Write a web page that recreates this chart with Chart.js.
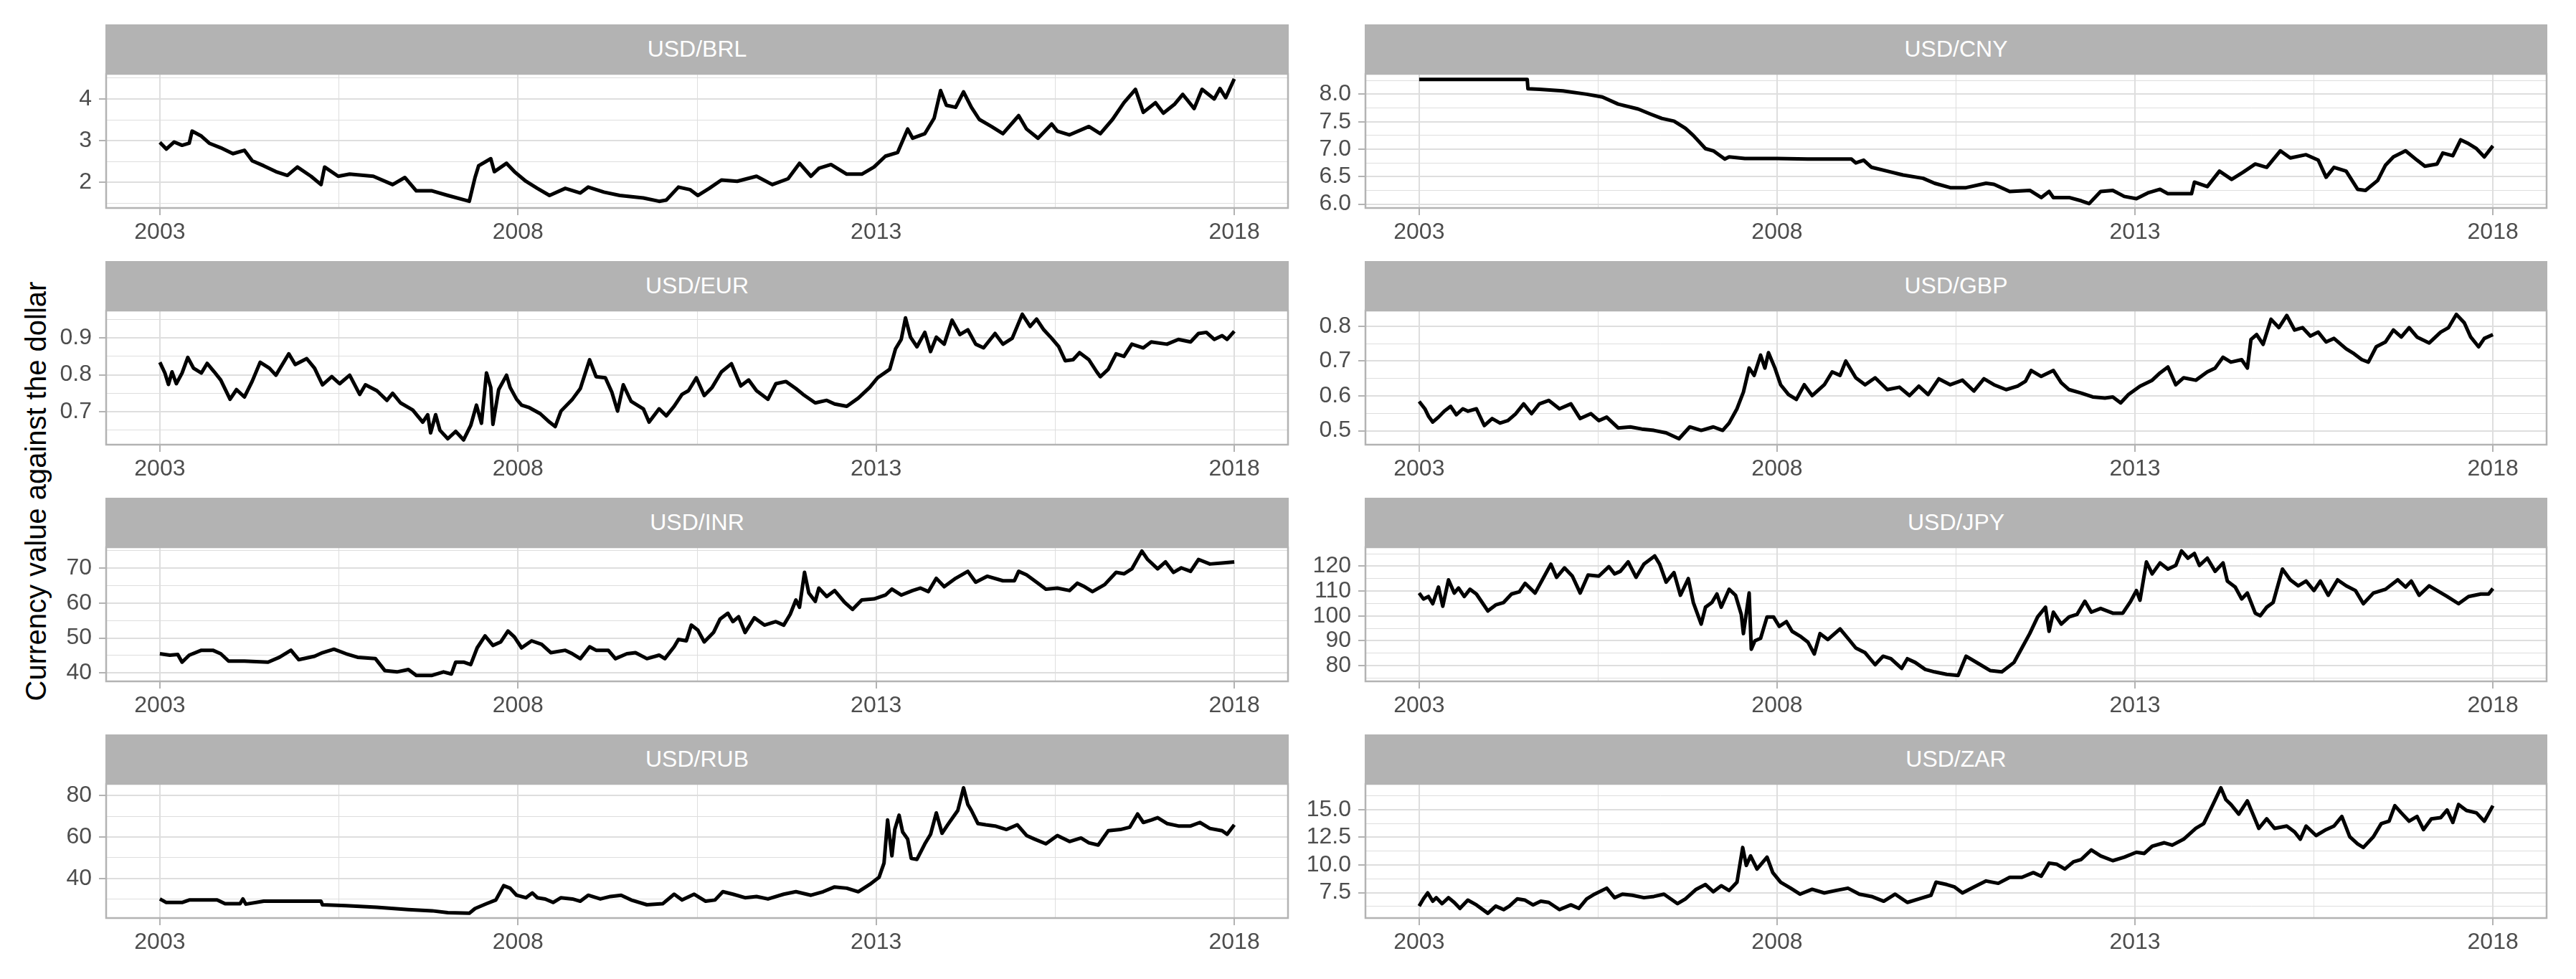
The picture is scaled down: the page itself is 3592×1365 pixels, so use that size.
<!DOCTYPE html>
<html>
<head>
<meta charset="utf-8">
<script src="https://cdn.jsdelivr.net/npm/chart.js@4.4.0/dist/chart.umd.min.js"></script>
<style>
  body { margin: 0; background: #fff; width: 3592px; height: 1365px; position: relative; overflow: hidden;
         font-family: "Liberation Sans", Arial, sans-serif; }
  .strip { position: absolute; background: #b3b3b3; color: #fff; font-size: 32px;
           display: flex; align-items: center; justify-content: center; }
  .panel { position: absolute; }
  #ytitle { position: absolute; left: 50px; top: 685px; transform: translate(-50%, -50%) rotate(-90deg);
            font-size: 40px; white-space: nowrap; color: #000; }
</style>
</head>
<body>
<div id="ytitle">Currency value against the dollar</div>
<script>
// ---- data ----
const yearTicks = [2003, 2008, 2013, 2018];
const yearLabels = ['2003', '2008', '2013', '2018'];

const brlDates = [
  2003.00, 2003.09, 2003.20, 2003.31, 2003.41, 2003.45, 2003.58, 2003.69, 2003.85, 2004.02,
  2004.18, 2004.29, 2004.45, 2004.62, 2004.78, 2004.92, 2005.11, 2005.25, 2005.30, 2005.49,
  2005.65, 2005.98, 2006.25, 2006.42, 2006.58, 2006.80, 2007.02, 2007.32, 2007.40, 2007.45,
  2007.62, 2007.67, 2007.84, 2007.95, 2008.11, 2008.27, 2008.44, 2008.66, 2008.87, 2008.98,
  2009.20, 2009.42, 2009.75, 2009.97, 2010.07, 2010.24, 2010.40, 2010.51, 2010.67, 2010.84,
  2011.06, 2011.33, 2011.55, 2011.77, 2011.93, 2012.09, 2012.20, 2012.37, 2012.59, 2012.80,
  2012.97, 2013.13, 2013.30, 2013.44, 2013.51, 2013.68, 2013.81, 2013.90, 2013.98, 2014.11,
  2014.22, 2014.33, 2014.44, 2014.61, 2014.77, 2014.99, 2015.10, 2015.26, 2015.45, 2015.53,
  2015.70, 2015.97, 2016.13, 2016.30, 2016.46, 2016.62, 2016.73, 2016.90, 2017.01, 2017.17,
  2017.28, 2017.44, 2017.55, 2017.72, 2017.80, 2017.88, 2018.00
];
const brlValues = [
  2.96, 2.80, 2.97, 2.89, 2.94, 3.23, 3.11, 2.94, 2.83, 2.69,
  2.77, 2.52, 2.40, 2.26, 2.17, 2.37, 2.15, 1.95, 2.37, 2.15,
  2.20, 2.15, 1.95, 2.12, 1.80, 1.80, 1.69, 1.55, 2.12, 2.40,
  2.57, 2.26, 2.46, 2.26, 2.03, 1.86, 1.69, 1.86, 1.75, 1.89,
  1.77, 1.69, 1.63, 1.55, 1.58, 1.89, 1.83, 1.69, 1.86, 2.06,
  2.03, 2.15, 1.95, 2.09, 2.46, 2.15, 2.34, 2.43, 2.20, 2.20,
  2.37, 2.63, 2.72, 3.28, 3.06, 3.17, 3.54, 4.20, 3.85, 3.80,
  4.17, 3.80, 3.51, 3.34, 3.17, 3.60, 3.28, 3.06, 3.40, 3.23,
  3.14, 3.34, 3.17, 3.51, 3.91, 4.23, 3.68, 3.91, 3.66, 3.88,
  4.11, 3.77, 4.23, 4.00, 4.25, 4.03, 4.48
];

const cnyDates = [
  2003.00, 2004.51, 2004.52, 2004.68, 2005.01, 2005.34, 2005.56, 2005.78, 2006.06, 2006.23,
  2006.39, 2006.56, 2006.72, 2006.83, 2007.00, 2007.11, 2007.27, 2007.33, 2007.55, 2008.00,
  2008.43, 2009.04, 2009.10, 2009.21, 2009.32, 2009.54, 2009.76, 2010.04, 2010.20, 2010.42,
  2010.64, 2010.92, 2011.03, 2011.25, 2011.53, 2011.69, 2011.80, 2011.86, 2012.08, 2012.25,
  2012.36, 2012.52, 2012.69, 2012.85, 2013.02, 2013.19, 2013.35, 2013.46, 2013.79, 2013.83,
  2014.01, 2014.18, 2014.35, 2014.51, 2014.68, 2014.84, 2015.03, 2015.17, 2015.39, 2015.56,
  2015.67, 2015.78, 2015.95, 2016.11, 2016.22, 2016.39, 2016.50, 2016.61, 2016.78, 2016.94,
  2017.05, 2017.22, 2017.30, 2017.44, 2017.55, 2017.66, 2017.77, 2017.88, 2018.00
];
const cnyValues = [
  8.27, 8.27, 8.10, 8.09, 8.06, 8.00, 7.95, 7.82, 7.73, 7.64,
  7.56, 7.51, 7.38, 7.25, 7.01, 6.97, 6.82, 6.86, 6.83, 6.83,
  6.82, 6.82, 6.75, 6.80, 6.67, 6.60, 6.53, 6.47, 6.38, 6.30,
  6.30, 6.38, 6.36, 6.23, 6.25, 6.12, 6.23, 6.12, 6.12, 6.06,
  6.01, 6.23, 6.25, 6.14, 6.10, 6.21, 6.27, 6.19, 6.19, 6.40,
  6.32, 6.60, 6.45, 6.58, 6.73, 6.67, 6.97, 6.84, 6.90, 6.80,
  6.49, 6.67, 6.60, 6.27, 6.25, 6.43, 6.71, 6.86, 6.97, 6.80,
  6.69, 6.73, 6.93, 6.88, 7.17, 7.10, 7.01, 6.86, 7.06
];

const eurDates = [
  2003.00, 2003.07, 2003.12, 2003.17, 2003.23, 2003.31, 2003.39, 2003.47, 2003.58, 2003.66,
  2003.76, 2003.85, 2003.98, 2004.07, 2004.18, 2004.29, 2004.40, 2004.53, 2004.62, 2004.80,
  2004.89, 2005.05, 2005.16, 2005.27, 2005.40, 2005.51, 2005.65, 2005.79, 2005.87, 2006.03,
  2006.17, 2006.25, 2006.36, 2006.53, 2006.67, 2006.74, 2006.78, 2006.85, 2006.91, 2007.02,
  2007.13, 2007.24, 2007.34, 2007.42, 2007.49, 2007.56, 2007.62, 2007.65, 2007.73, 2007.84,
  2007.89, 2007.98, 2008.05, 2008.16, 2008.31, 2008.44, 2008.52, 2008.60, 2008.76, 2008.87,
  2009.00, 2009.09, 2009.22, 2009.31, 2009.39, 2009.47, 2009.58, 2009.75, 2009.83, 2009.97,
  2010.07, 2010.18, 2010.29, 2010.38, 2010.49, 2010.60, 2010.71, 2010.84, 2010.98, 2011.11,
  2011.22, 2011.33, 2011.49, 2011.60, 2011.74, 2011.88, 2011.98, 2012.15, 2012.31, 2012.42,
  2012.59, 2012.75, 2012.91, 2013.02, 2013.19, 2013.27, 2013.35, 2013.41, 2013.48, 2013.57,
  2013.68, 2013.76, 2013.84, 2013.95, 2014.06, 2014.17, 2014.28, 2014.39, 2014.50, 2014.66,
  2014.77, 2014.90, 2015.04, 2015.15, 2015.24, 2015.34, 2015.45, 2015.55, 2015.64, 2015.75,
  2015.84, 2015.97, 2016.08, 2016.13, 2016.24, 2016.35, 2016.46, 2016.57, 2016.73, 2016.84,
  2017.06, 2017.22, 2017.39, 2017.50, 2017.61, 2017.72, 2017.83, 2017.90, 2018.00
];
const eurValues = [
  0.834, 0.805, 0.774, 0.808, 0.776, 0.805, 0.847, 0.818, 0.805, 0.831,
  0.808, 0.786, 0.734, 0.760, 0.740, 0.783, 0.834, 0.818, 0.799, 0.857,
  0.828, 0.844, 0.818, 0.773, 0.795, 0.776, 0.799, 0.747, 0.773, 0.757,
  0.731, 0.750, 0.724, 0.705, 0.672, 0.692, 0.643, 0.692, 0.650, 0.627,
  0.647, 0.624, 0.663, 0.718, 0.669, 0.805, 0.766, 0.666, 0.760, 0.799,
  0.766, 0.734, 0.718, 0.711, 0.695, 0.672, 0.660, 0.702, 0.734, 0.763,
  0.841, 0.795, 0.792, 0.753, 0.702, 0.773, 0.728, 0.708, 0.672, 0.708,
  0.689, 0.715, 0.747, 0.757, 0.792, 0.744, 0.766, 0.808, 0.830, 0.770,
  0.786, 0.757, 0.734, 0.776, 0.782, 0.763, 0.747, 0.724, 0.731, 0.721,
  0.715, 0.737, 0.766, 0.792, 0.815, 0.870, 0.896, 0.954, 0.902, 0.876,
  0.915, 0.863, 0.902, 0.883, 0.948, 0.909, 0.922, 0.883, 0.873, 0.912,
  0.883, 0.899, 0.964, 0.931, 0.951, 0.922, 0.899, 0.876, 0.838, 0.841,
  0.860, 0.841, 0.808, 0.795, 0.815, 0.857, 0.850, 0.883, 0.873, 0.889,
  0.883, 0.896, 0.889, 0.912, 0.915, 0.896, 0.906, 0.896, 0.918
];

const gbpDates = [
  2003.00, 2003.08, 2003.13, 2003.19, 2003.27, 2003.35, 2003.44, 2003.52, 2003.61, 2003.68,
  2003.80, 2003.91, 2004.02, 2004.13, 2004.24, 2004.35, 2004.46, 2004.57, 2004.68, 2004.81,
  2004.96, 2005.12, 2005.25, 2005.40, 2005.51, 2005.62, 2005.78, 2005.95, 2006.11, 2006.28,
  2006.45, 2006.63, 2006.78, 2006.94, 2007.11, 2007.24, 2007.33, 2007.44, 2007.53, 2007.61,
  2007.68, 2007.77, 2007.83, 2007.88, 2007.97, 2008.05, 2008.16, 2008.27, 2008.38, 2008.49,
  2008.66, 2008.77, 2008.88, 2008.96, 2009.10, 2009.23, 2009.37, 2009.54, 2009.71, 2009.85,
  2009.98, 2010.11, 2010.26, 2010.42, 2010.59, 2010.75, 2010.89, 2011.03, 2011.20, 2011.36,
  2011.47, 2011.55, 2011.69, 2011.86, 2011.97, 2012.08, 2012.25, 2012.41, 2012.58, 2012.69,
  2012.80, 2012.91, 2013.07, 2013.24, 2013.35, 2013.46, 2013.57, 2013.68, 2013.85, 2014.01,
  2014.12, 2014.23, 2014.34, 2014.49, 2014.57, 2014.62, 2014.70, 2014.79, 2014.90, 2015.01,
  2015.12, 2015.23, 2015.34, 2015.45, 2015.56, 2015.67, 2015.78, 2015.95, 2016.06, 2016.17,
  2016.26, 2016.37, 2016.50, 2016.61, 2016.72, 2016.83, 2016.94, 2017.11, 2017.27, 2017.38,
  2017.49, 2017.60, 2017.69, 2017.80, 2017.88, 2018.00
];
const gbpValues = [
  0.584, 0.563, 0.542, 0.525, 0.539, 0.556, 0.570, 0.546, 0.563, 0.556,
  0.563, 0.515, 0.535, 0.522, 0.529, 0.549, 0.577, 0.549, 0.577, 0.587,
  0.563, 0.577, 0.535, 0.549, 0.529, 0.539, 0.508, 0.511, 0.505, 0.501,
  0.494, 0.477, 0.511, 0.501, 0.511, 0.501, 0.522, 0.563, 0.611, 0.680,
  0.659, 0.717, 0.680, 0.724, 0.680, 0.632, 0.604, 0.590, 0.632, 0.601,
  0.632, 0.669, 0.659, 0.700, 0.652, 0.632, 0.652, 0.618, 0.625, 0.601,
  0.628, 0.604, 0.649, 0.632, 0.645, 0.614, 0.649, 0.632, 0.618, 0.628,
  0.642, 0.673, 0.656, 0.673, 0.638, 0.618, 0.608, 0.597, 0.594, 0.597,
  0.580, 0.604, 0.628, 0.645, 0.666, 0.683, 0.632, 0.652, 0.645, 0.669,
  0.680, 0.711, 0.697, 0.704, 0.680, 0.762, 0.776, 0.748, 0.820, 0.796,
  0.831, 0.789, 0.796, 0.772, 0.783, 0.755, 0.765, 0.735, 0.721, 0.704,
  0.697, 0.741, 0.755, 0.789, 0.769, 0.796, 0.769, 0.752, 0.783, 0.796,
  0.834, 0.810, 0.769, 0.741, 0.765, 0.776
];

const inrDates = [
  2003.00, 2003.14, 2003.25, 2003.31, 2003.41, 2003.58, 2003.74, 2003.85, 2003.96, 2004.18,
  2004.51, 2004.67, 2004.83, 2004.94, 2005.16, 2005.27, 2005.43, 2005.60, 2005.76, 2006.01,
  2006.14, 2006.31, 2006.47, 2006.58, 2006.80, 2006.96, 2007.07, 2007.13, 2007.24, 2007.34,
  2007.43, 2007.54, 2007.65, 2007.76, 2007.86, 2007.95, 2008.05, 2008.19, 2008.33, 2008.46,
  2008.66, 2008.76, 2008.87, 2009.00, 2009.09, 2009.26, 2009.36, 2009.52, 2009.64, 2009.80,
  2009.97, 2010.05, 2010.18, 2010.24, 2010.35, 2010.42, 2010.51, 2010.60, 2010.73, 2010.82,
  2010.93, 2011.00, 2011.08, 2011.17, 2011.30, 2011.44, 2011.60, 2011.71, 2011.80, 2011.88,
  2011.93, 2012.00, 2012.06, 2012.15, 2012.20, 2012.31, 2012.42, 2012.56, 2012.67, 2012.80,
  2012.97, 2013.13, 2013.22, 2013.35, 2013.51, 2013.62, 2013.73, 2013.84, 2013.95, 2014.11,
  2014.28, 2014.39, 2014.55, 2014.77, 2014.93, 2014.99, 2015.10, 2015.26, 2015.37, 2015.53,
  2015.70, 2015.81, 2015.91, 2016.02, 2016.19, 2016.35, 2016.46, 2016.57, 2016.71, 2016.79,
  2016.93, 2017.04, 2017.15, 2017.26, 2017.39, 2017.50, 2017.66, 2017.83, 2018.00
];
const inrValues = [
  45.5, 45.1, 45.3, 43.1, 45.1, 46.5, 46.5, 45.5, 43.4, 43.4,
  43.1, 44.5, 46.5, 43.8, 44.8, 45.8, 46.8, 45.5, 44.5, 44.1,
  40.7, 40.3, 41.0, 39.3, 39.3, 40.3, 39.7, 43.1, 43.1, 42.4,
  47.2, 50.6, 47.9, 48.9, 52.0, 50.3, 47.2, 49.2, 48.2, 45.8,
  46.5, 45.5, 44.1, 47.5, 46.5, 46.5, 44.1, 45.5, 45.8, 44.1,
  45.1, 44.1, 47.5, 49.6, 49.2, 53.7, 52.3, 48.9, 51.6, 55.4,
  57.1, 54.7, 56.1, 51.6, 55.8, 53.7, 54.7, 53.7, 56.8, 60.9,
  58.8, 68.8, 62.9, 60.5, 64.3, 61.9, 63.6, 60.2, 58.2, 60.9,
  61.2, 62.3, 64.0, 62.3, 63.6, 64.3, 63.3, 67.1, 64.7, 67.1,
  69.1, 66.0, 67.7, 66.4, 66.4, 69.1, 68.1, 65.7, 64.0, 64.3,
  63.6, 65.7, 64.7, 63.3, 65.3, 68.8, 68.4, 69.8, 74.9, 72.5,
  69.8, 71.8, 68.8, 70.1, 69.1, 72.5, 71.2, 71.5, 71.8
];

const jpyDates = [
  2003.00, 2003.06, 2003.13, 2003.19, 2003.27, 2003.33, 2003.41, 2003.49, 2003.55, 2003.63,
  2003.71, 2003.80, 2003.88, 2003.96, 2004.07, 2004.18, 2004.29, 2004.40, 2004.48, 2004.62,
  2004.73, 2004.84, 2004.92, 2005.03, 2005.14, 2005.25, 2005.36, 2005.51, 2005.65, 2005.73,
  2005.81, 2005.92, 2006.03, 2006.14, 2006.29, 2006.36, 2006.45, 2006.56, 2006.65, 2006.76,
  2006.83, 2006.94, 2007.00, 2007.09, 2007.16, 2007.22, 2007.33, 2007.42, 2007.50, 2007.53,
  2007.61, 2007.64, 2007.69, 2007.77, 2007.86, 2007.95, 2008.03, 2008.13, 2008.21, 2008.32,
  2008.43, 2008.52, 2008.60, 2008.71, 2008.88, 2008.99, 2009.10, 2009.23, 2009.37, 2009.48,
  2009.59, 2009.74, 2009.82, 2009.93, 2010.07, 2010.20, 2010.37, 2010.53, 2010.64, 2010.81,
  2010.98, 2011.14, 2011.31, 2011.42, 2011.53, 2011.64, 2011.75, 2011.80, 2011.86, 2011.97,
  2012.08, 2012.19, 2012.30, 2012.39, 2012.52, 2012.69, 2012.83, 2012.94, 2013.02, 2013.07,
  2013.16, 2013.24, 2013.35, 2013.46, 2013.57, 2013.65, 2013.74, 2013.83, 2013.90, 2014.01,
  2014.12, 2014.23, 2014.29, 2014.40, 2014.49, 2014.57, 2014.68, 2014.75, 2014.84, 2014.93,
  2015.06, 2015.17, 2015.28, 2015.39, 2015.50, 2015.59, 2015.70, 2015.83, 2015.95, 2016.08,
  2016.19, 2016.33, 2016.50, 2016.67, 2016.78, 2016.86, 2016.97, 2017.11, 2017.22, 2017.36,
  2017.52, 2017.66, 2017.83, 2017.94, 2018.00
];
const jpyValues = [
  109.2, 106.8, 107.8, 104.9, 111.6, 103.9, 114.5, 109.2, 111.2, 107.8,
  110.7, 108.8, 105.4, 102.0, 104.4, 105.4, 108.8, 109.7, 113.1, 109.2,
  115.0, 120.8, 115.5, 119.3, 116.0, 109.2, 116.4, 116.0, 119.8, 116.9,
  117.9, 121.7, 115.5, 120.8, 124.1, 120.8, 113.6, 117.4, 108.3, 115.0,
  105.4, 96.7, 103.5, 105.4, 108.8, 103.5, 110.7, 108.3, 100.6, 92.9,
  109.2, 86.6, 90.0, 91.0, 99.6, 99.6, 95.8, 97.7, 93.8, 91.9,
  89.5, 84.7, 92.9, 90.5, 94.8, 91.0, 87.1, 85.2, 80.4, 83.8,
  82.8, 78.9, 82.8, 81.3, 78.5, 77.5, 76.5, 76.1, 83.8, 80.9,
  78.0, 77.5, 81.3, 87.1, 92.9, 99.6, 103.5, 93.8, 101.5, 96.7,
  99.6, 100.6, 105.9, 101.5, 103.0, 101.1, 101.1, 105.9, 110.2, 106.3,
  121.7, 116.9, 121.3, 118.8, 120.3, 126.1, 123.2, 125.1, 120.3, 123.2,
  117.9, 121.3, 114.0, 111.6, 106.8, 109.2, 101.1, 100.1, 103.5, 105.4,
  118.8, 114.5, 112.1, 114.0, 110.2, 114.0, 108.3, 114.5, 112.1, 110.2,
  104.9, 109.2, 110.7, 114.5, 111.6, 114.0, 108.3, 112.1, 110.2, 107.8,
  104.9, 107.8, 108.8, 108.8, 111.0
];

const rubDates = [
  2003.00, 2003.09, 2003.31, 2003.41, 2003.80, 2003.91, 2004.12, 2004.16, 2004.20, 2004.45,
  2004.62, 2004.94, 2005.25, 2005.27, 2005.60, 2006.03, 2006.47, 2006.80, 2007.02, 2007.32,
  2007.40, 2007.56, 2007.69, 2007.80, 2007.89, 2007.98, 2008.11, 2008.20, 2008.27, 2008.38,
  2008.49, 2008.60, 2008.76, 2008.87, 2008.98, 2009.15, 2009.29, 2009.44, 2009.58, 2009.80,
  2010.02, 2010.18, 2010.29, 2010.46, 2010.62, 2010.75, 2010.86, 2011.00, 2011.17, 2011.33,
  2011.49, 2011.71, 2011.88, 2012.09, 2012.26, 2012.42, 2012.59, 2012.75, 2012.91, 2013.04,
  2013.11, 2013.16, 2013.22, 2013.26, 2013.32, 2013.37, 2013.44, 2013.49, 2013.57, 2013.68,
  2013.76, 2013.84, 2013.92, 2014.00, 2014.14, 2014.22, 2014.28, 2014.33, 2014.42, 2014.53,
  2014.66, 2014.82, 2014.97, 2015.10, 2015.21, 2015.37, 2015.53, 2015.70, 2015.86, 2015.97,
  2016.10, 2016.24, 2016.41, 2016.54, 2016.65, 2016.73, 2016.84, 2016.93, 2017.06, 2017.22,
  2017.39, 2017.52, 2017.66, 2017.83, 2017.90, 2018.00
];
const rubValues = [
  30.1, 28.4, 28.4, 29.6, 29.6, 27.8, 27.8, 30.1, 27.6, 29.0,
  29.0, 29.0, 29.0, 27.3, 26.9, 26.1, 25.0, 24.4, 23.5, 23.2,
  25.5, 27.8, 29.6, 36.5, 35.3, 31.9, 30.7, 33.0, 30.7, 30.1,
  28.4, 30.7, 30.1, 29.0, 31.9, 30.1, 31.3, 31.9, 29.6, 27.3,
  27.8, 32.4, 29.6, 32.4, 29.0, 29.6, 33.6, 32.4, 30.7, 31.3,
  30.1, 32.4, 33.6, 31.9, 33.6, 35.9, 35.3, 33.6, 37.1, 40.5,
  47.4, 68.2, 50.9, 63.6, 70.5, 62.4, 59.0, 49.7, 49.2, 56.7,
  61.3, 71.6, 61.8, 65.9, 72.8, 83.7, 75.7, 72.8, 66.5, 65.9,
  65.3, 63.6, 65.9, 60.7, 59.0, 56.7, 60.7, 57.8, 59.5, 57.2,
  56.1, 63.0, 63.6, 64.7, 71.1, 67.0, 68.2, 69.3, 66.5, 65.3,
  65.3, 67.0, 64.1, 63.0, 61.3, 65.9
];

const zarDates = [
  2003.00, 2003.06, 2003.12, 2003.19, 2003.24, 2003.32, 2003.41, 2003.49, 2003.57, 2003.68,
  2003.80, 2003.96, 2004.07, 2004.18, 2004.26, 2004.37, 2004.48, 2004.59, 2004.70, 2004.81,
  2004.96, 2005.12, 2005.23, 2005.34, 2005.45, 2005.62, 2005.73, 2005.84, 2005.98, 2006.14,
  2006.28, 2006.42, 2006.61, 2006.72, 2006.87, 2007.00, 2007.11, 2007.22, 2007.33, 2007.44,
  2007.52, 2007.57, 2007.63, 2007.72, 2007.79, 2007.86, 2007.94, 2008.05, 2008.19, 2008.32,
  2008.49, 2008.66, 2008.82, 2008.99, 2009.15, 2009.32, 2009.49, 2009.65, 2009.82, 2009.98,
  2010.15, 2010.22, 2010.37, 2010.48, 2010.59, 2010.75, 2010.92, 2011.09, 2011.25, 2011.42,
  2011.58, 2011.69, 2011.80, 2011.91, 2012.02, 2012.14, 2012.25, 2012.39, 2012.52, 2012.69,
  2012.85, 2013.02, 2013.13, 2013.24, 2013.41, 2013.52, 2013.68, 2013.85, 2013.96, 2014.09,
  2014.20, 2014.27, 2014.34, 2014.45, 2014.57, 2014.64, 2014.73, 2014.84, 2014.95, 2015.12,
  2015.23, 2015.31, 2015.39, 2015.53, 2015.67, 2015.78, 2015.89, 2016.00, 2016.11, 2016.19,
  2016.33, 2016.44, 2016.55, 2016.63, 2016.72, 2016.83, 2016.94, 2017.03, 2017.14, 2017.27,
  2017.36, 2017.44, 2017.52, 2017.63, 2017.77, 2017.88, 2018.00
];
const zarValues = [
  6.28, 6.93, 7.47, 6.72, 7.04, 6.50, 7.04, 6.61, 6.07, 6.82,
  6.39, 5.63, 6.28, 5.96, 6.28, 6.93, 6.82, 6.39, 6.72, 6.61,
  5.96, 6.39, 6.07, 6.93, 7.36, 7.90, 7.04, 7.36, 7.26, 7.04,
  7.15, 7.36, 6.50, 6.93, 7.80, 8.23, 7.58, 8.12, 7.69, 8.44,
  11.58, 9.96, 10.82, 9.63, 10.17, 10.71, 9.31, 8.44, 7.90, 7.36,
  7.80, 7.47, 7.69, 7.90, 7.36, 7.15, 6.72, 7.36, 6.61, 6.93,
  7.26, 8.44, 8.23, 8.01, 7.47, 8.01, 8.55, 8.34, 8.88, 8.88,
  9.31, 8.98, 10.17, 10.06, 9.63, 10.28, 10.50, 11.36, 10.82, 10.39,
  10.71, 11.15, 11.04, 11.69, 12.01, 11.79, 12.33, 13.31, 13.74, 15.47,
  16.98, 15.90, 15.47, 14.60, 15.79, 14.71, 13.31, 14.17, 13.31, 13.52,
  12.98, 12.33, 13.52, 12.66, 13.20, 13.52, 14.39, 12.55, 11.90, 11.58,
  12.55, 13.74, 13.96, 15.36, 14.71, 13.96, 14.39, 13.20, 14.17, 14.28,
  14.97, 13.85, 15.47, 14.93, 14.71, 13.96, 15.36
];

// y breaks and labels per panel
const brlTicks = [2, 3, 4];             const brlLabels = ['2', '3', '4'];
const cnyTicks = [6.0, 6.5, 7.0, 7.5, 8.0]; const cnyLabels = ['6.0', '6.5', '7.0', '7.5', '8.0'];
const eurTicks = [0.7, 0.8, 0.9];       const eurLabels = ['0.7', '0.8', '0.9'];
const gbpTicks = [0.5, 0.6, 0.7, 0.8];  const gbpLabels = ['0.5', '0.6', '0.7', '0.8'];
const inrTicks = [40, 50, 60, 70];      const inrLabels = ['40', '50', '60', '70'];
const jpyTicks = [80, 90, 100, 110, 120]; const jpyLabels = ['80', '90', '100', '110', '120'];
const rubTicks = [40, 60, 80];          const rubLabels = ['40', '60', '80'];
const zarTicks = [7.5, 10.0, 12.5, 15.0]; const zarLabels = ['7.5', '10.0', '12.5', '15.0'];

// ---- layout ----
const panels = [
  { name: 'USD/BRL', dates: brlDates, values: brlValues, ticks: brlTicks, labels: brlLabels, lim: [1.39, 4.60] },
  { name: 'USD/CNY', dates: cnyDates, values: cnyValues, ticks: cnyTicks, labels: cnyLabels, lim: [5.93, 8.37] },
  { name: 'USD/EUR', dates: eurDates, values: eurValues, ticks: eurTicks, labels: eurLabels, lim: [0.611, 0.974] },
  { name: 'USD/GBP', dates: gbpDates, values: gbpValues, ticks: gbpTicks, labels: gbpLabels, lim: [0.460, 0.845] },
  { name: 'USD/INR', dates: inrDates, values: inrValues, ticks: inrTicks, labels: inrLabels, lim: [37.6, 76.0] },
  { name: 'USD/JPY', dates: jpyDates, values: jpyValues, ticks: jpyTicks, labels: jpyLabels, lim: [73.7, 127.6] },
  { name: 'USD/RUB', dates: rubDates, values: rubValues, ticks: rubTicks, labels: rubLabels, lim: [20.9, 85.6] },
  { name: 'USD/ZAR', dates: zarDates, values: zarValues, ticks: zarTicks, labels: zarLabels, lim: [5.20, 17.33] }
];

const colLeft = [148, 1904];
const colWidth = [1648, 1647];
const rowTop = [103, 433, 763, 1093];
const plotH = 187;
const stripH = 69;
const AXW = 100, AXH = 60, PAD = 3;
const FONT = '"Liberation Sans", Arial, sans-serif';
const GRID = '#dedede', FRAME = '#b3b3b3', TEXT = '#4d4d4d';

Chart.defaults.font.family = FONT;

// ggplot-style minor breaks: halfway between majors, one step beyond each end
function withMinor(major, lo, hi) {
  const step = major[1] - major[0];
  const all = [major[0] - step / 2];
  major.forEach(m => { all.push(m); all.push(m + step / 2); });
  return all.map(v => +v.toFixed(6)).filter(v => v >= lo && v <= hi);
}
const findMajor = (list, v) => list.findIndex(t => Math.abs(t - v) < 1e-6);

const panelBorder = {
  id: 'panelBorder',
  afterDraw(chart) {
    const { ctx, chartArea: a } = chart;
    ctx.save();
    ctx.strokeStyle = FRAME;
    ctx.lineWidth = 2.5;
    ctx.strokeRect(a.left, a.top, a.right - a.left, a.bottom - a.top);
    ctx.restore();
  }
};

const xMin = 2002.25, xMax = 2018.75;
const xAll = withMinor(yearTicks, xMin, xMax);

panels.forEach((p, i) => {
  const col = i % 2, row = Math.floor(i / 2);
  const left = colLeft[col], top = rowTop[row], w = colWidth[col];

  const strip = document.createElement('div');
  strip.className = 'strip';
  strip.style.left = (left - 1) + 'px';
  strip.style.top = (top - stripH) + 'px';
  strip.style.width = (w + 2) + 'px';
  strip.style.height = stripH + 'px';
  strip.textContent = p.name;
  document.body.appendChild(strip);

  const box = document.createElement('div');
  box.className = 'panel';
  box.style.left = (left - AXW) + 'px';
  box.style.top = (top - PAD) + 'px';
  const cv = document.createElement('canvas');
  cv.width = AXW + w + PAD;
  cv.height = PAD + plotH + AXH;
  box.appendChild(cv);
  document.body.appendChild(box);

  const yAll = withMinor(p.ticks, p.lim[0], p.lim[1]);
  const isMajX = c => c.tick && findMajor(yearTicks, c.tick.value) >= 0;
  const isMajY = c => c.tick && findMajor(p.ticks, c.tick.value) >= 0;

  new Chart(cv, {
    type: 'line',
    data: {
      datasets: [{
        data: p.dates.map((d, k) => ({ x: d, y: p.values[k] })),
        borderColor: '#000',
        borderWidth: 5,
        borderJoinStyle: 'round',
        pointRadius: 0,
        tension: 0,
        fill: false
      }]
    },
    options: {
      responsive: false,
      animation: false,
      layout: { padding: { top: PAD, right: PAD, left: 0, bottom: 0 } },
      plugins: { legend: { display: false }, tooltip: { enabled: false } },
      scales: {
        x: {
          type: 'linear', min: xMin, max: xMax,
          afterBuildTicks: s => { s.ticks = xAll.map(v => ({ value: v })); },
          afterFit: s => { s.height = AXH; s.paddingLeft = 0; s.paddingRight = 0; },
          border: { display: false },
          grid: {
            color: GRID,
            lineWidth: c => isMajX(c) ? 2 : 1,
            tickLength: 10,
            tickColor: c => isMajX(c) ? FRAME : 'rgba(0,0,0,0)',
            tickWidth: c => isMajX(c) ? 2 : 0
          },
          ticks: {
            autoSkip: false, maxRotation: 0, minRotation: 0, padding: 5,
            color: TEXT, font: { size: 32 },
            callback: v => { const k = findMajor(yearTicks, v); return k >= 0 ? yearLabels[k] : ''; }
          }
        },
        y: {
          type: 'linear', min: p.lim[0], max: p.lim[1],
          afterBuildTicks: s => { s.ticks = yAll.map(v => ({ value: v })); },
          afterFit: s => { s.width = AXW; s.paddingTop = 0; s.paddingBottom = 0; },
          border: { display: false },
          grid: {
            color: GRID,
            lineWidth: c => isMajY(c) ? 2 : 1,
            tickLength: 10,
            tickColor: c => isMajY(c) ? FRAME : 'rgba(0,0,0,0)',
            tickWidth: c => isMajY(c) ? 2 : 0
          },
          ticks: {
            autoSkip: false, padding: 10,
            color: TEXT, font: { size: 32 },
            callback: v => { const k = findMajor(p.ticks, v); return k >= 0 ? p.labels[k] : ''; }
          }
        }
      }
    },
    plugins: [panelBorder]
  });
});
</script>
</body>
</html>
